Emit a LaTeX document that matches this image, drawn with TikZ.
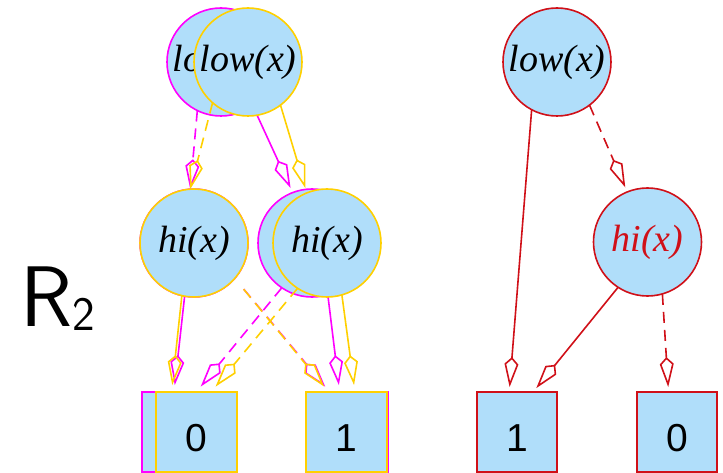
\documentclass[tikz,border=0pt]{standalone}
\usepackage{fontspec}
\setmainfont{Liberation Serif}
\newfontfamily\digitfont{Liberation Sans}
\usetikzlibrary{arrows.meta}

\definecolor{nodefill}{RGB}{176,222,250}
\definecolor{bddmag}{RGB}{255,0,255}
\definecolor{bddyel}{RGB}{255,208,0}
\definecolor{bddred}{RGB}{208,16,24}

\tikzset{
  varnode/.style={circle, minimum size=108pt, inner sep=0pt, outer sep=0pt,
    fill=nodefill, line width=1.6pt,
    font=\fontsize{38}{38}\selectfont\itshape},
  termnode/.style={rectangle, minimum width=81pt, minimum height=80pt,
    inner sep=0pt, outer sep=0pt, fill=nodefill, line width=1.6pt,
    font=\fontsize{39}{39}\selectfont\digitfont, text height=38pt, text depth=0pt},
  solidlink/.style={line width=1.6pt, line join=miter,
    -{Kite[open, length=30pt, width=14pt, inset=7pt]}},
  dashlink/.style={solidlink, dash pattern=on 11pt off 7pt},
}

\begin{document}
\begin{tikzpicture}[x=1pt, y=-1pt]
\useasboundingbox (0,0) rectangle (723,473);

% label of the pair
\node[anchor=base west, inner sep=0pt, font=\sffamily\fontsize{86}{86}\selectfont]
  (pairlabel) at (20,326) {R\raisebox{-4pt}{\fontsize{48}{48}\selectfont 2}};

% first diagram (magenta), drawn underneath
\begin{scope}[bddmag]
  \node[varnode, draw=bddmag, text=black] (lowM) at (221,62) {low(x)};
  \node[varnode, draw=bddmag, text=black] (hiLM) at (194,243) {hi(x)};
  \node[varnode, draw=bddmag, text=black] (hiMM) at (312,243) {hi(x)};
  \node[termnode, draw=bddmag, text=black] (zeroM) at (182.5,432) {0};
  \node[termnode, draw=bddmag, text=black] (oneM) at (347.5,432) {1};
  \draw[dashlink] (lowM.244) -- (hiLM.94);
  \draw[solidlink, shorten >=5pt] (lowM.306) -- (hiMM.111);
  \draw[solidlink, shorten >=7pt] (hiLM.260) -- (zeroM.102);
  \draw[dashlink, shorten <=14pt, shorten >=7pt] (hiLM.319) -- (oneM.114);
  \draw[dashlink, shorten >=7pt] (hiMM.236) -- (zeroM.71);
  \draw[solidlink, shorten >=7pt] (hiMM.287) -- (oneM.101);
\end{scope}

% second diagram (yellow), drawn on top
\begin{scope}[bddyel]
  \node[varnode, draw=bddyel, text=black] (lowY) at (248,62) {low(x)};
  \node[varnode, draw=bddyel, text=black] (hiLY) at (194,243) {hi(x)};
  \node[varnode, draw=bddyel, text=black] (hiMY) at (327,243) {hi(x)};
  \node[termnode, draw=bddyel, text=black] (zeroY) at (196.5,432) {0};
  \node[termnode, draw=bddyel, text=black] (oneY) at (346.5,432) {1};
  \draw[dashlink] (lowY.229) -- (hiLY.94);
  \draw[solidlink, shorten >=5pt] (lowY.307) -- (hiMY.112);
  \draw[solidlink, shorten >=7pt] (hiLY.257) -- (zeroY.122);
  \draw[dashlink, shorten <=14pt, shorten >=7pt] (hiLY.319) -- (oneY.114);
  \draw[dashlink, shorten >=7pt] (hiMY.237) -- (zeroY.70);
  \draw[solidlink, shorten >=7pt] (hiMY.286) -- (oneY.78);
\end{scope}

% reduced diagram (red)
\begin{scope}[bddred]
  \node[varnode, draw=bddred, text=black] (lowR) at (557,62) {low(x)};
  \node[varnode, draw=bddred, text=bddred] (hiR) at (647.5,242) {hi(x)};
  \node[termnode, draw=bddred, text=black, minimum width=80pt] (oneR) at (517,432) {1};
  \node[termnode, draw=bddred, text=black, minimum width=80pt] (zeroR) at (677,432) {0};
  \draw[solidlink, shorten >=5pt] (lowR.242) -- (oneR.101);
  \draw[dashlink, shorten >=5pt] (lowR.307) -- (hiR.112);
  \draw[solidlink, shorten >=5pt] (hiR.237) -- (oneR.68);
  \draw[dashlink, shorten >=5pt] (hiR.286) -- (zeroR.102);
\end{scope}
\end{tikzpicture}
\end{document}
